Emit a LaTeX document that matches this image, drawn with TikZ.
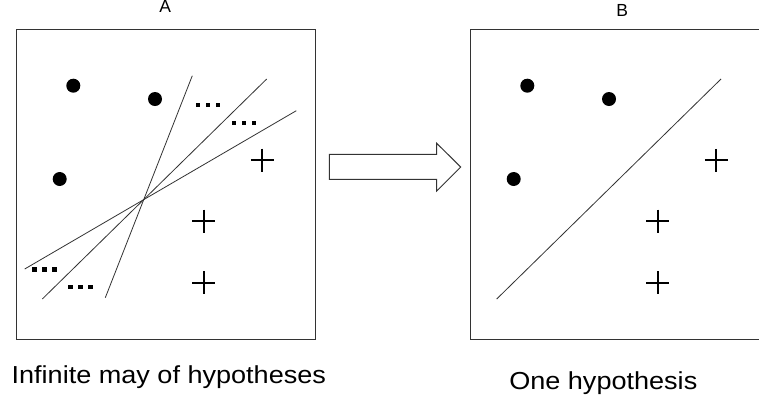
\documentclass[tikz,border=0pt]{standalone}
\usepackage{fontspec}
\setmainfont{Liberation Sans}
\newfontfamily\capfont[FakeStretch=1.1]{Liberation Sans}
\begin{document}
\begin{tikzpicture}[x=1pt,y=-1pt,
  frame/.style={draw=black!80, line width=1pt},
  hyp/.style={draw=black!80, line width=0.8pt},
  pt/.style={circle, fill=black, inner sep=0pt, minimum size=14pt},
  lbl/.style={font=\fontsize{17.5}{20}\selectfont, inner sep=0pt, anchor=base},
  captext/.style={font=\capfont\fontsize{24.6}{28}\selectfont, inner sep=0pt, anchor=base},
  plussign/.pic={\draw[line width=1.8pt] (-11.5,0)--(11.5,0) (0,-11.5)--(0,11.5);},
  tridot/.pic={\foreach \k in {-10,0,10}{\fill (\k-2.2,-2.2) rectangle (\k+2.2,2.2);}}
]
\useasboundingbox (0,0) rectangle (759,400);
\clip (0,0) rectangle (759,400);
\fill[white] (0,0) rectangle (759,400);

% Panel A
\node[frame, rectangle, minimum width=299.3pt, minimum height=310pt, inner sep=0pt] (boxA) at (166.3,184) {};
\node[lbl] (labA) at (165.2,12.3) {A};
\node[pt] (a1) at (73.3,85.7) {};
\node[pt] (a2) at (155,99) {};
\node[pt] (a3) at (59.7,179) {};
\coordinate (c) at (142.7,200);
\coordinate (l1s) at (192.3,75.7);
\coordinate (l1e) at (105.3,297.7);
\coordinate (l2s) at (266.7,79);
\coordinate (l2e) at (42.3,299);
\coordinate (l3s) at (296.3,110.7);
\coordinate (l3e) at (24.7,269);
\draw[hyp] (l1s) -- (l1e);
\draw[hyp] (l2s) -- (l2e);
\draw[hyp] (l3s) -- (l3e);
\pic at (208,104.7) {tridot};
\pic at (243.8,123) {tridot};
\pic at (44.5,269.3) {tridot};
\pic at (80.5,287.2) {tridot};
\pic at (262.3,160) {plussign};
\pic at (203.7,221) {plussign};
\pic at (203.7,282.7) {plussign};
\node[captext] (capA) at (168.8,383.3) {Infinite may of hypotheses};

% Arrow
\draw[line width=1pt, draw=black!80, fill=white]
  (329.3,154.3) -- (436.7,154.3) -- (436.7,143.3) -- (460.7,167) -- (436.7,191) -- (436.7,179.3) -- (329.3,179.3) -- cycle;

% Panel B
\node[frame, rectangle, minimum width=299.3pt, minimum height=310pt, inner sep=0pt] (boxB) at (620.3,184) {};
\node[lbl] (labB) at (622.2,16) {B};
\node[pt] (b1) at (527.3,85.7) {};
\node[pt] (b2) at (609,99) {};
\node[pt] (b3) at (513.7,179) {};
\coordinate (m1) at (721,79);
\coordinate (m2) at (496.7,299);
\draw[hyp] (m1) -- (m2);
\pic at (716.3,160.3) {plussign};
\pic at (657.7,221) {plussign};
\pic at (657.7,282.7) {plussign};
\node[captext] (capB) at (603.3,389.3) {One hypothesis};
\end{tikzpicture}
\end{document}
